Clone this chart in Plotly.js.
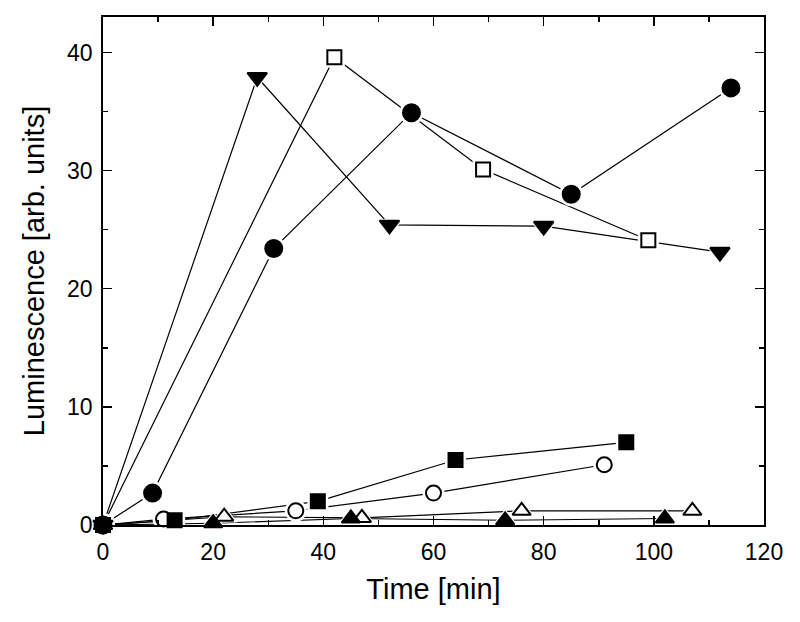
<!DOCTYPE html>
<html>
<head>
<meta charset="utf-8">
<script src="https://cdn.plot.ly/plotly-3.0.1.min.js"></script>
<style>html,body{margin:0;padding:0;background:#fff;}#chart{width:800px;height:622px;}</style>
</head>
<body>
<div id="chart"></div>
<script>
// Series data (Time [min], Luminescence [arb. units])
const circleFilledX = [0, 9, 31, 56, 85, 114];
const circleFilledY = [0, 2.7, 23.4, 34.9, 28.0, 37.0];

const squareOpenX = [0, 42, 69, 99];
const squareOpenY = [0, 39.6, 30.1, 24.1];

const triDownFilledX = [0, 28, 52, 80, 112];
const triDownFilledY = [0, 37.9, 25.4, 25.3, 23.1];

const squareFilledX = [0, 13, 39, 64, 95];
const squareFilledY = [0, 0.4, 2.0, 5.5, 7.0];

const circleOpenX = [0, 11, 35, 60, 91];
const circleOpenY = [0, 0.5, 1.2, 2.7, 5.1];

const triUpOpenX = [0, 22, 47, 76, 107];
const triUpOpenY = [0, 0.7, 0.6, 1.2, 1.2];

const triUpFilledX = [0, 20, 45, 73, 102];
const triUpFilledY = [0, 0.15, 0.55, 0.4, 0.55];

const xTicks = [0, 20, 40, 60, 80, 100, 120];
const yTicks = [0, 10, 20, 30, 40];

// open-marker series first so filled markers end up on top at the origin
const series = [
  {x: squareOpenX, y: squareOpenY, symbol: 'square', fill: 'white', size: 14},
  {x: circleOpenX, y: circleOpenY, symbol: 'circle', fill: 'white', size: 15},
  {x: triUpOpenX, y: triUpOpenY, symbol: 'triangle-up', fill: 'white', size: 16},
  {x: circleFilledX, y: circleFilledY, symbol: 'circle', fill: 'black', size: 17},
  {x: triDownFilledX, y: triDownFilledY, symbol: 'triangle-down', fill: 'black', size: 17},
  {x: squareFilledX, y: squareFilledY, symbol: 'square', fill: 'black', size: 14},
  {x: triUpFilledX, y: triUpFilledY, symbol: 'triangle-up', fill: 'black', size: 16}
];

const traces = [];
series.forEach(s => traces.push({
  x: s.x, y: s.y, type: 'scatter', mode: 'lines', cliponaxis: false,
  line: {color: 'black', width: 1.2}, hoverinfo: 'skip', showlegend: false
}));
series.forEach(s => traces.push({
  x: s.x, y: s.y, type: 'scatter', mode: 'markers', cliponaxis: false,
  marker: {symbol: s.symbol, size: s.size + 7, color: 'white', line: {width: 0}},
  hoverinfo: 'skip', showlegend: false
}));
series.forEach(s => traces.push({
  x: s.x, y: s.y, type: 'scatter', mode: 'markers', cliponaxis: false,
  marker: {symbol: s.symbol, size: s.size, color: s.fill, line: {color: 'black', width: 2}},
  showlegend: false
}));

const font = {family: 'Liberation Sans, Arial, sans-serif', color: 'black'};

const layout = {
  width: 800, height: 622,
  margin: {l: 103, r: 36, t: 17, b: 97},
  paper_bgcolor: 'white', plot_bgcolor: 'white',
  showlegend: false,
  font: font,
  xaxis: {
    range: [0, 120], tickvals: xTicks, ticktext: xTicks.map(String),
    ticks: 'inside', ticklen: 9, tickwidth: 1.5, tickcolor: 'black',
    minor: {dtick: 10, ticks: 'inside', ticklen: 5, tickwidth: 1.5, tickcolor: 'black'},
    showline: true, linecolor: 'black', linewidth: 1.8, mirror: 'allticks',
    showgrid: false, zeroline: false,
    tickfont: {family: font.family, size: 23, color: 'black'},
    ticklabelstandoff: 6,
    title: {text: 'Time [min]', font: {family: font.family, size: 29, color: 'black'}, standoff: 14}
  },
  yaxis: {
    range: [0, 43], tickvals: yTicks, ticktext: yTicks.map(String),
    ticks: 'inside', ticklen: 9, tickwidth: 1.5, tickcolor: 'black',
    minor: {dtick: 5, ticks: 'inside', ticklen: 5, tickwidth: 1.5, tickcolor: 'black'},
    showline: true, linecolor: 'black', linewidth: 1.8, mirror: 'allticks',
    showgrid: false, zeroline: false,
    tickfont: {family: font.family, size: 23, color: 'black'},
    ticklabelstandoff: 4,
    title: {text: 'Luminescence [arb. units]', font: {family: font.family, size: 29, color: 'black'}, standoff: 14}
  }
};

Plotly.newPlot('chart', traces, layout, {displayModeBar: false, staticPlot: true});
</script>
</body>
</html>
